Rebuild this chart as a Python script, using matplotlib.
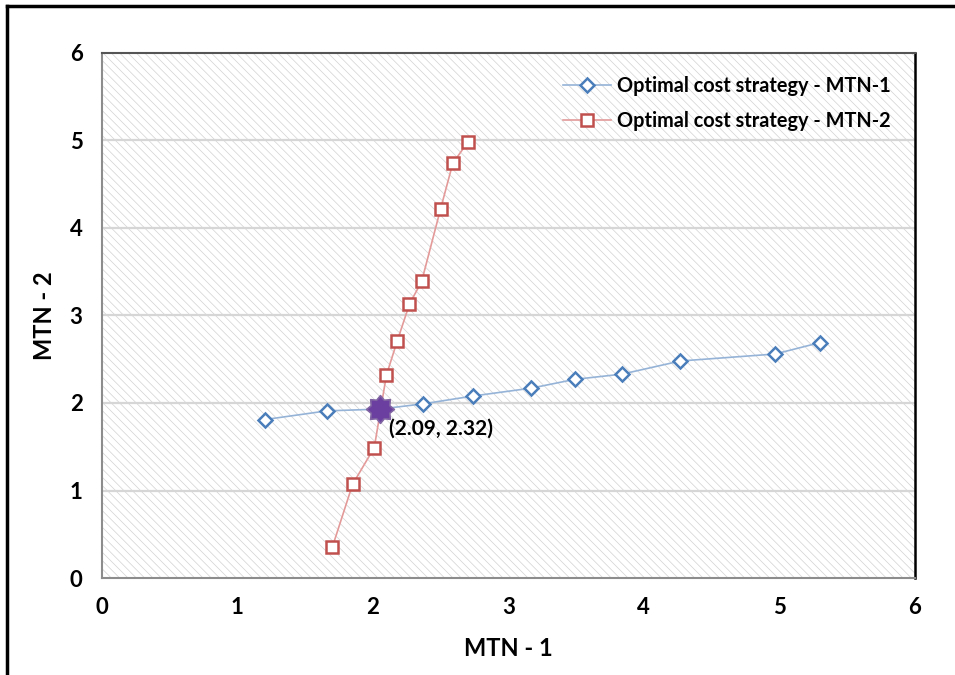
import numpy as np
import matplotlib.pyplot as plt
from matplotlib.lines import Line2D
from matplotlib.patches import Rectangle
from matplotlib.path import Path

plt.rcParams['font.family'] = ['Lato', 'DejaVu Sans']
plt.rcParams['hatch.linewidth'] = 0.5
plt.rcParams['hatch.color'] = '#d2d2d2'

# strategy curves
mtn1_x = [1.20, 1.66, 2.05, 2.37, 2.74, 3.17, 3.49, 3.84, 4.27, 4.97, 5.30]
mtn1_y = [1.81, 1.91, 1.93, 1.99, 2.08, 2.17, 2.27, 2.33, 2.48, 2.56, 2.69]
mtn2_x = [1.70, 1.85, 2.01, 2.10, 2.18, 2.27, 2.36, 2.50, 2.59, 2.70]
mtn2_y = [0.35, 1.07, 1.49, 2.32, 2.71, 3.13, 3.39, 4.22, 4.74, 4.98]
eq_x, eq_y = [2.05], [1.93]
eq_label = "(2.09, 2.32)"
ticks = [0, 1, 2, 3, 4, 5, 6]

# blunt 8-point star used for the crossing point
ang = np.pi / 2 + np.arange(16) * np.pi / 8
rad = np.where(np.arange(16) % 2 == 0, 1.0, 0.72)
star_verts = np.column_stack([rad * np.cos(ang), rad * np.sin(ang)])
star = Path(np.vstack([star_verts, star_verts[:1]]), closed=True)

fig = plt.figure(figsize=(9.55, 6.75), dpi=100)
ax = fig.add_axes([0.1068, 0.1437, 0.851, 0.7778])

ax.add_patch(Rectangle((0, 0), 1, 1, transform=ax.transAxes, facecolor='white',
                       edgecolor='#d2d2d2', hatch='\\\\\\\\', linewidth=0, zorder=0))
for yv in ticks[1:-1]:
    ax.axhline(yv, color='#d6d6d6', linewidth=1.6, zorder=1)

ax.plot(mtn1_x, mtn1_y, color='#95b3d7', linewidth=1.2, marker='D', markersize=7,
        markerfacecolor='white', markeredgecolor='#4a7ebb', markeredgewidth=1.8,
        label='Optimal cost strategy - MTN-1', zorder=3)
ax.plot(mtn2_x, mtn2_y, color='#e39a99', linewidth=1.2, marker='s', markersize=9,
        markerfacecolor='white', markeredgecolor='#c0504d', markeredgewidth=1.8,
        label='Optimal cost strategy - MTN-2', zorder=3)
ax.plot(eq_x, eq_y, linestyle='none', marker=star, markersize=20,
        markerfacecolor='#6b3fa0', markeredgecolor='#8064a2', markeredgewidth=1.2, zorder=4)
ax.annotate(eq_label, (eq_x[0], eq_y[0]), xytext=(7, -7), textcoords='offset points',
            ha='left', va='top', fontsize=15, fontweight='bold', zorder=5)

ax.set_xlim(0, 6)
ax.set_ylim(0, 6)
ax.set_xticks(ticks)
ax.set_yticks(ticks)
ax.tick_params(length=0, labelsize=16, pad=14)
for lab in ax.get_xticklabels() + ax.get_yticklabels():
    lab.set_fontweight('bold')
ax.set_xlabel('MTN - 1', fontsize=17, fontweight='bold', labelpad=13)
ax.set_ylabel('MTN - 2', fontsize=17, fontweight='bold', labelpad=10)
for side in ['left', 'bottom']:
    ax.spines[side].set_color('#8c8c8c')
    ax.spines[side].set_linewidth(1.5)
ax.spines['top'].set_color('#555555')
ax.spines['top'].set_linewidth(1.5)
ax.spines['right'].set_color('black')
ax.spines['right'].set_linewidth(1.8)

ax.legend(loc='upper right', frameon=False, prop={'weight': 'bold', 'size': 14.3},
          handlelength=2.4, handletextpad=0.3, labelspacing=0.75,
          bbox_to_anchor=(0.992, 0.99))

# outer frame seen along the left and top edges
fig.add_artist(Line2D([0.0075, 0.0075], [0, 0.991], transform=fig.transFigure,
                      color='black', linewidth=2.5))
fig.add_artist(Line2D([0.0075, 1.0], [0.991, 0.991], transform=fig.transFigure,
                      color='black', linewidth=2.5))

fig.savefig('out.png', dpi=100)
